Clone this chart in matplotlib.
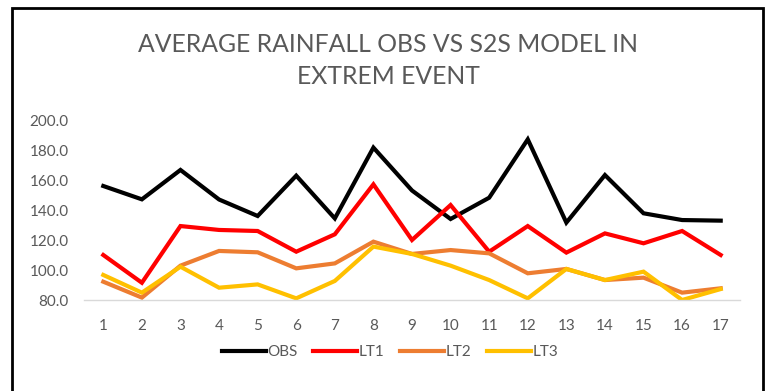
import matplotlib
matplotlib.use("Agg")
import matplotlib.pyplot as plt
from matplotlib.patches import Rectangle

# Lead-time index
events = list(range(1, 18))

# Average rainfall per event
obs = [156.0, 147.1, 166.7, 147.0, 136.0, 162.9, 134.4, 181.6, 153.0,
       134.0, 148.2, 187.1, 131.6, 163.3, 137.8, 133.3, 132.9]
lt1 = [110.0, 91.5, 129.3, 126.7, 126.0, 112.2, 123.8, 157.1, 120.0,
       143.3, 112.2, 129.3, 111.6, 124.4, 117.8, 126.0, 110.0]
lt2 = [92.2, 81.6, 102.9, 112.7, 111.8, 101.1, 104.4, 118.9, 110.7,
       113.3, 111.1, 97.8, 100.7, 93.3, 94.9, 84.9, 87.8]
lt3 = [96.7, 84.9, 102.2, 88.2, 90.4, 81.1, 92.7, 115.6, 110.7,
       102.9, 93.3, 81.1, 100.7, 93.3, 98.9, 80.0, 87.3]

series_names = ["OBS", "LT1", "LT2", "LT3"]
series_colors = ["#000000", "#FF0000", "#ED7D31", "#FFC000"]
y_ticks = [80, 100, 120, 140, 160, 180, 200]

W, H = 771, 391
fig = plt.figure(figsize=(W / 100, H / 100), dpi=100)
fig.patch.set_facecolor("white")
plt.rcParams["font.family"] = ["Lato", "DejaVu Sans"]

# Outer chart frame
fig.patches.append(Rectangle((12 / W, -0.05), (763 - 12) / W, 1.05 - 8 / H,
                             transform=fig.transFigure, fill=False,
                             edgecolor="#000000", linewidth=2.0))

ax = fig.add_axes([84 / W, 1 - 300 / H, (740 - 84) / W, (300 - 120) / H])
for name, vals, col in zip(series_names, [obs, lt1, lt2, lt3], series_colors):
    ax.plot(events, vals, color=col, linewidth=3.0, label=name,
            solid_joinstyle="miter")

ax.set_xlim(0.5, 17.5)
ax.set_ylim(80, 200)
ax.set_yticks(y_ticks)
ax.set_yticklabels([f"{v:.1f}" for v in y_ticks])
ax.set_xticks(events)
for s in ["top", "right", "left"]:
    ax.spines[s].set_visible(False)
ax.spines["bottom"].set_color("#D9D9D9")
ax.spines["bottom"].set_linewidth(1.0)
ax.tick_params(axis="both", length=0, colors="#595959", labelsize=11)
ax.tick_params(axis="x", pad=14)
ax.tick_params(axis="y", pad=11)
ax.set_facecolor("none")

fig.text(388 / W, 1 - 45 / H, "AVERAGE RAINFALL OBS VS S2S MODEL IN",
         ha="center", va="center", fontsize=17.8, color="#595959")
fig.text(388 / W, 1 - 76 / H, "EXTREM EVENT",
         ha="center", va="center", fontsize=17.8, color="#595959")

leg = fig.legend(loc="center", bbox_to_anchor=(390 / W, 1 - 352 / H),
                 ncol=4, frameon=False, fontsize=11, handlelength=2.9,
                 columnspacing=1.0, handletextpad=0.1)
for t in leg.get_texts():
    t.set_color("#595959")
for ln in leg.get_lines():
    ln.set_linewidth(3.0)

fig.savefig("out.png", dpi=100, facecolor="white")
